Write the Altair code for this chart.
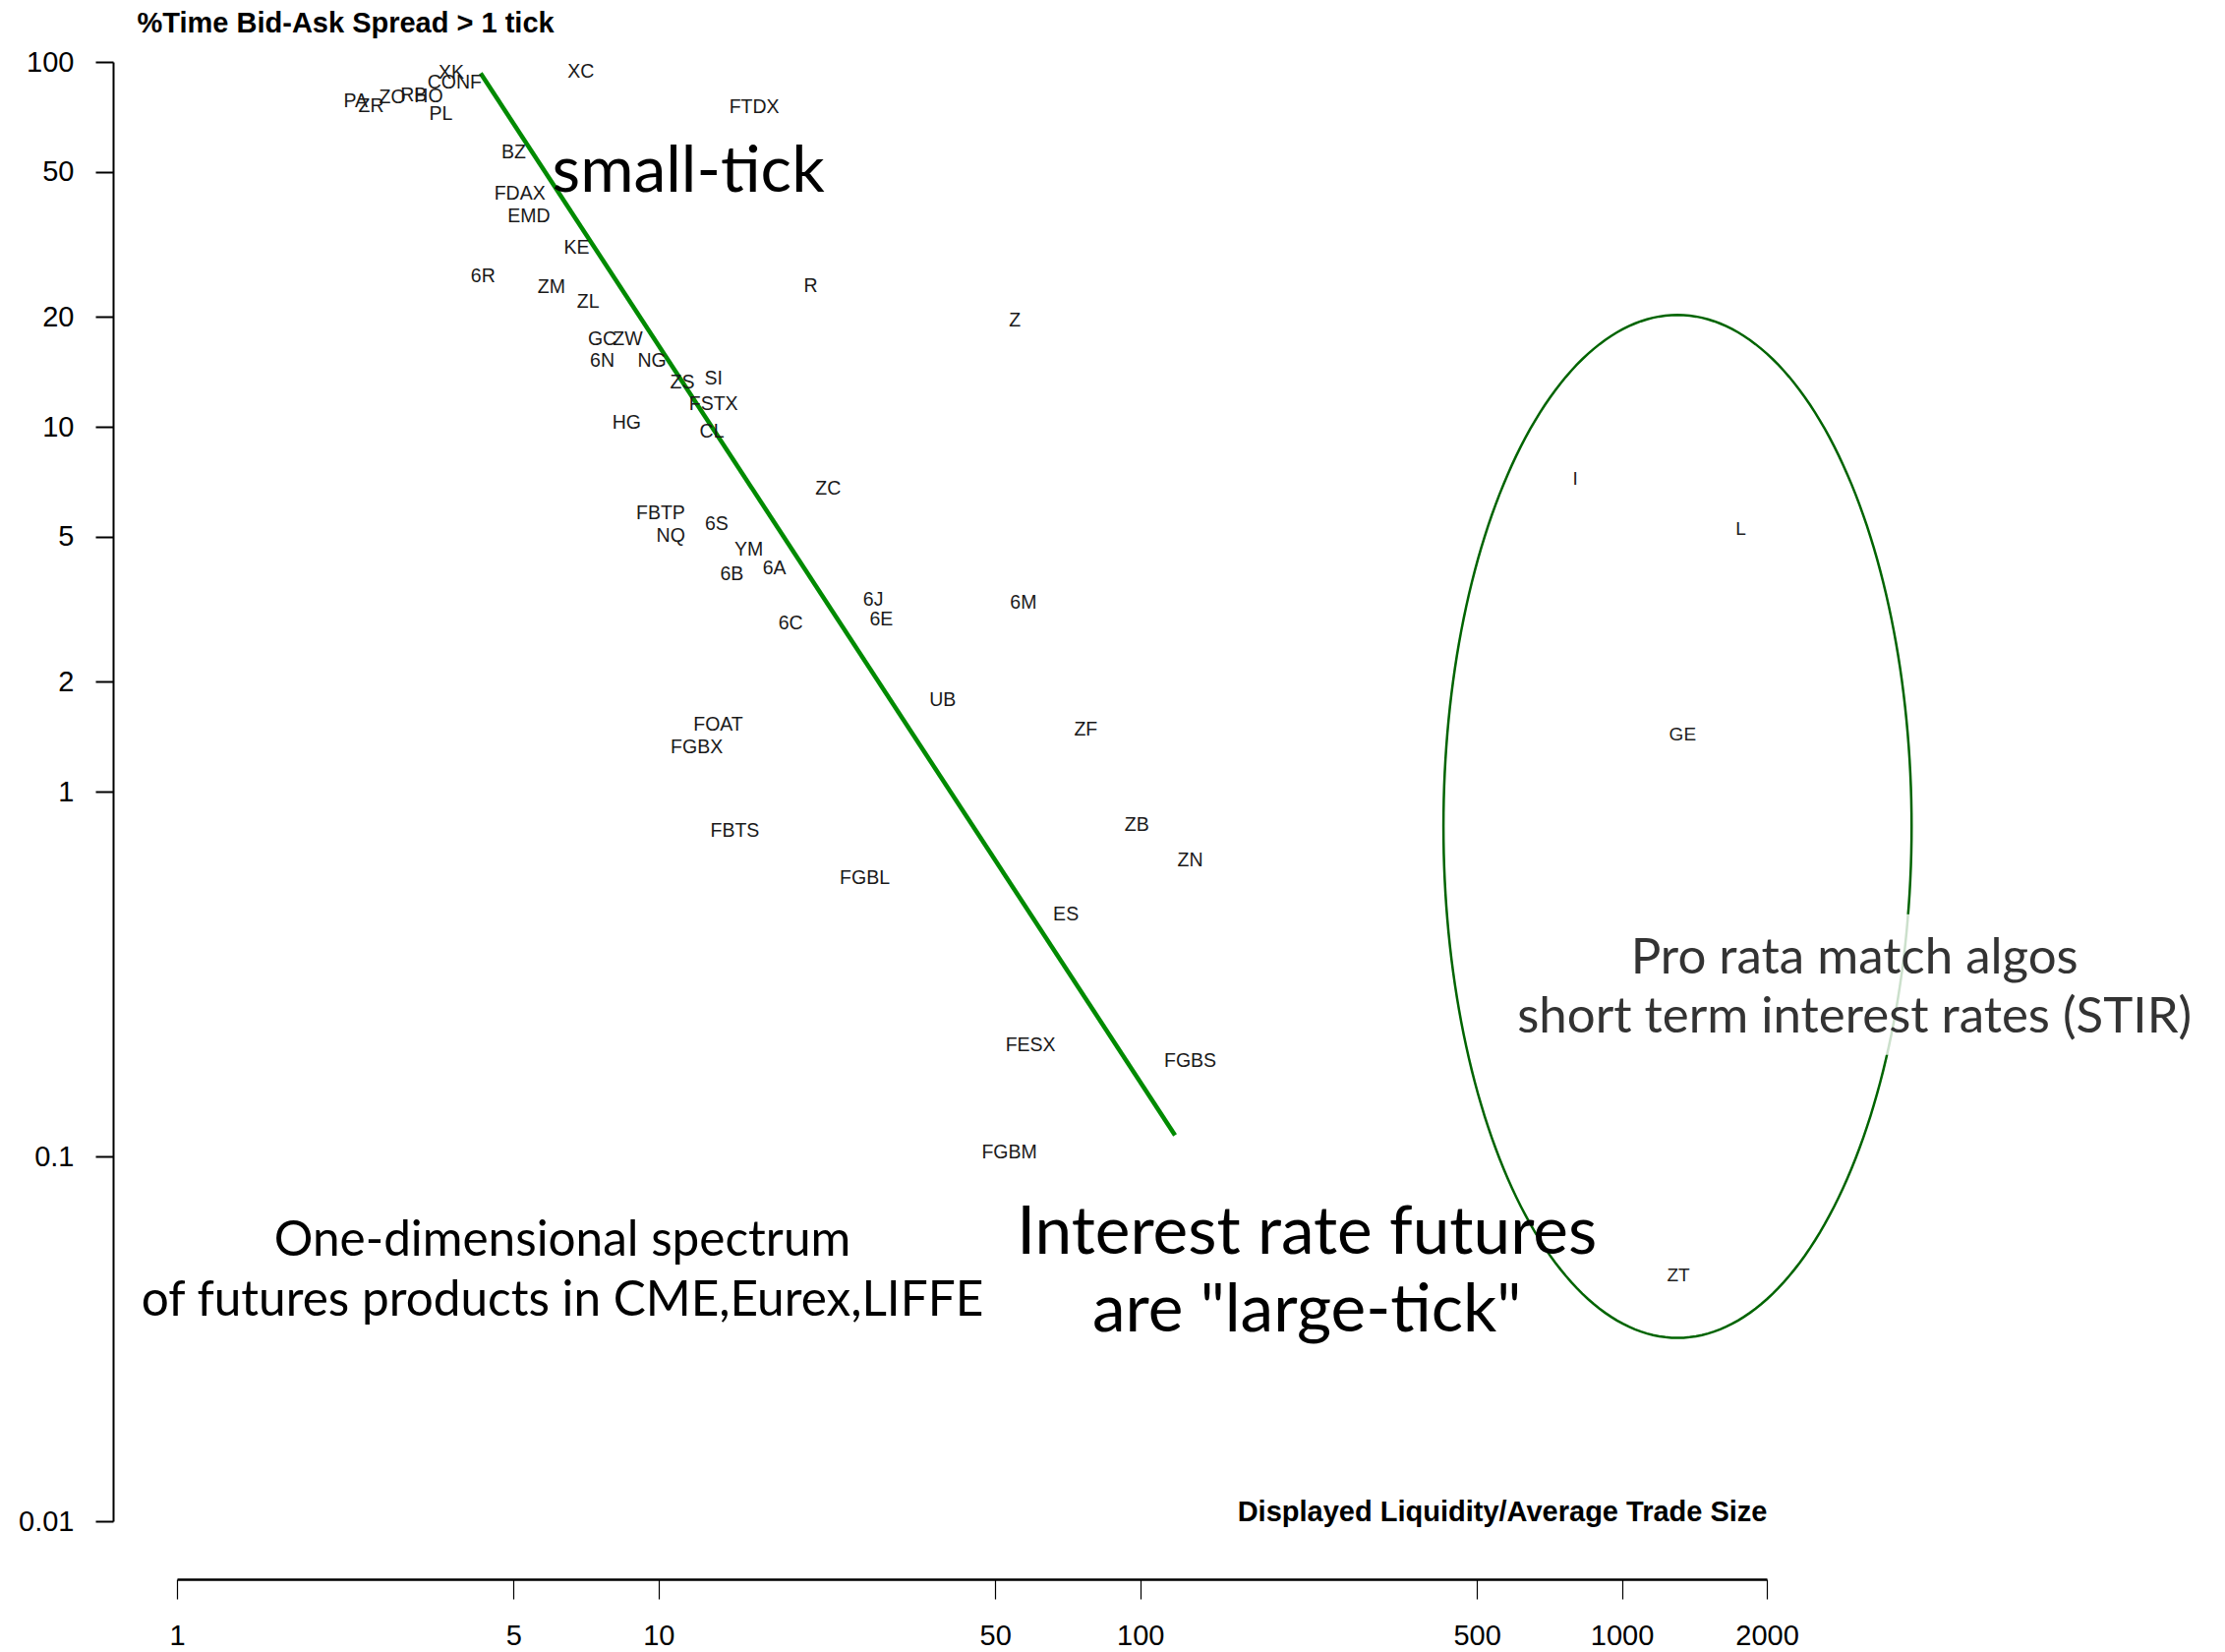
import altair as alt
import numpy as np
import pandas as pd

# --- futures products: displayed liquidity / avg trade size vs % time spread > 1 tick
products = ["XK", "CONF", "XC", "PA", "ZR", "ZO", "RB", "HO", "PL", "FTDX",
            "BZ", "FDAX", "EMD", "KE", "6R", "ZM", "ZL", "R", "Z", "GC",
            "ZW", "6N", "NG", "ZS", "SI", "FSTX", "HG", "CL", "ZC", "FBTP",
            "6S", "NQ", "YM", "6A", "6B", "6J", "6M", "6E", "6C", "UB",
            "FOAT", "ZF", "FGBX", "ZB", "FBTS", "ZN", "FGBL", "ES", "FESX", "FGBS",
            "FGBM"]
liquidity = [3.71, 3.77, 6.90, 2.35, 2.53, 2.80, 3.10, 3.33, 3.53, 15.8,
             5.00, 5.15, 5.38, 6.76, 4.32, 5.99, 7.14, 20.7, 54.9, 7.64,
             8.63, 7.64, 9.69, 11.2, 13.0, 13.0, 8.58, 12.9, 22.5, 10.1,
             13.2, 10.6, 15.4, 17.4, 14.2, 27.9, 57.2, 29.0, 18.8, 38.9,
             13.3, 77.1, 12.0, 98.4, 14.4, 127.0, 26.8, 70.1, 59.2, 127.0,
             53.5]
spread_pct = [95.0, 89.3, 95.4, 79.4, 76.9, 81.1, 82.2, 81.7, 73.1, 76.4,
              57.5, 44.2, 38.3, 31.5, 26.3, 24.5, 22.4, 24.7, 19.8, 17.6,
              17.6, 15.4, 15.4, 13.4, 13.8, 11.7, 10.4, 9.83, 6.87, 5.89,
              5.49, 5.11, 4.67, 4.16, 4.01, 3.41, 3.35, 3.01, 2.93, 1.81,
              1.55, 1.50, 1.34, 0.821, 0.792, 0.656, 0.589, 0.467, 0.205, 0.186,
              0.104]

# short term interest rate contracts (pro rata matching)
stir_products = ["I", "L", "GE", "ZT"]
stir_liquidity = [800.0, 1766.0, 1337.0, 1310.0]
stir_spread_pct = [7.31, 5.34, 1.46, 0.048]

# fitted spectrum line (end points)
fit_liquidity = [4.27, 118.1]
fit_spread_pct = [93.1, 0.1143]

# STIR ellipse, drawn in log10 space: centre and half-axes in decades
ell_center = (1305.0, 0.8026)
ell_half_axes = (0.486, 1.402)

x_ticks = [1, 5, 10, 50, 100, 500, 1000, 2000]
y_ticks = [0.01, 0.1, 1, 2, 5, 10, 20, 50, 100]

pts = pd.DataFrame({"x": liquidity, "y": spread_pct, "label": products})
stir = pd.DataFrame({"x": stir_liquidity, "y": stir_spread_pct, "label": stir_products})
fit = pd.DataFrame({"x": fit_liquidity, "y": fit_spread_pct, "i": [0, 1]})

t = np.linspace(0, 2 * np.pi, 241)
ell = pd.DataFrame({
    "x": 10 ** (np.log10(ell_center[0]) + ell_half_axes[0] * np.cos(t)),
    "y": 10 ** (np.log10(ell_center[1]) + ell_half_axes[1] * np.sin(t)),
    "i": np.arange(len(t)),
})

# annotation anchors (data coordinates; text baseline at y)
notes = pd.DataFrame({
    "x": [11.53, 221.8, 221.8, 6.314, 6.314],
    "y": [44.2, 0.05415, 0.03316, 0.05348, 0.03662],
    "text": ["small-tick", "Interest rate futures", 'are "large-tick"',
             "One-dimensional spectrum", "of futures products in CME,Eurex,LIFFE"],
    "size": [66, 67.5, 67.5, 49.5, 49.5],
})
stir_note = pd.DataFrame({
    "x": [3042.0, 3042.0],
    "y": [0.3180, 0.2192],
    "text": ["Pro rata match algos", "short term interest rates (STIR)"],
})
note_box = pd.DataFrame({"x": [584.3], "x2": [16063.0], "y": [0.4611], "y2": [0.1898]})

W, H = 1617, 1484
PAD_L, PAD_T = 180, 63

xscale = alt.Scale(type="log", domain=[1, 2000], nice=False)
yscale = alt.Scale(type="log", domain=[0.01, 100], nice=False)

xaxis = alt.Axis(
    values=x_ticks, format="~g", grid=False, offset=59,
    domainColor="black", domainWidth=2.5, tickColor="black", tickWidth=1.2,
    tickSize=20, labelFont="Liberation Sans", labelFontSize=29, labelColor="black",
    labelPadding=37, labelBaseline="middle", labelFlush=False, labelOverlap=False,
    title="Displayed Liquidity/Average Trade Size", titleFont="Liberation Sans",
    titleFontSize=29, titleFontWeight="bold", titleColor="black",
    titleAlign="right", titleBaseline="alphabetic", titleAnchor="end",
    titleX=W, titleY=-60,
)
yaxis = alt.Axis(
    values=y_ticks, format="~g", grid=False, offset=65,
    domainColor="black", domainWidth=2, tickColor="black", tickWidth=2,
    tickSize=18, labelFont="Liberation Sans", labelFontSize=29, labelColor="black",
    labelPadding=22, labelFlush=False, labelOverlap=False,
    title="%Time Bid-Ask Spread > 1 tick", titleFont="Liberation Sans",
    titleFontSize=29, titleFontWeight="bold", titleColor="black",
    titleAngle=0, titleAlign="left", titleBaseline="alphabetic", titleAnchor="start",
    titleX=24, titleY=-31,
)

X = alt.X("x:Q", scale=xscale, axis=xaxis)
Y = alt.Y("y:Q", scale=yscale, axis=yaxis)

ellipse = alt.Chart(ell).mark_line(color="#006400", strokeWidth=2.5).encode(
    x=X, y=Y, order="i:Q")

box = alt.Chart(note_box).mark_rect(color="white", opacity=0.8).encode(
    x=X, x2="x2:Q", y=Y, y2="y2:Q")

fit_line = alt.Chart(fit).mark_line(color="#008A00", strokeWidth=4.5).encode(
    x=X, y=Y, order="i:Q")

labels = alt.Chart(pts).mark_text(
    font="Liberation Sans", fontSize=19.5, color="#1a1a1a",
    align="center", baseline="middle", dy=2.5).encode(x=X, y=Y, text="label:N")

stir_labels = alt.Chart(stir).mark_text(
    font="Liberation Sans", fontSize=19, color="#222222",
    align="center", baseline="middle", dy=2.5).encode(x=X, y=Y, text="label:N")

note_text = alt.Chart(notes).mark_text(
    font="Gill Sans, Gill Sans MT, Lato", color="black",
    align="center", baseline="alphabetic").encode(
    x=X, y=Y, text="text:N", size=alt.Size("size:Q", scale=None, legend=None))

stir_text = alt.Chart(stir_note).mark_text(
    font="Gill Sans, Gill Sans MT, Lato", fontSize=51, color="#333333",
    align="center", baseline="alphabetic").encode(x=X, y=Y, text="text:N")

chart = alt.layer(
    ellipse, box, fit_line, labels, stir_labels, note_text, stir_text
).properties(
    width=W, height=H,
    autosize=alt.AutoSizeParams(type="none"),
    padding={"left": PAD_L, "top": PAD_T, "right": 2263 - PAD_L - W,
             "bottom": 1680 - PAD_T - H},
    background="white",
).configure_view(strokeWidth=0)

chart.save("out.html", embed_options={"renderer": "svg", "actions": False})
